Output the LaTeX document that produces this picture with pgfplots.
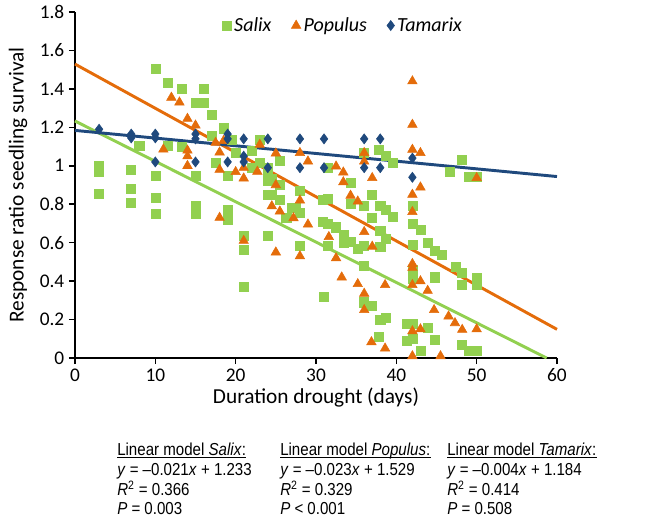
\documentclass[border=0pt]{standalone}
\usepackage{fontspec}
\setmainfont{Carlito}
\newfontfamily\narrowfont[FakeStretch=0.87]{Liberation Sans}
\usepackage{pgfplots}
\pgfplotsset{compat=1.18}
\usepackage{pgfplotstable}
\definecolor{salix}{RGB}{146,208,80}
\definecolor{populus}{RGB}{228,108,10}
\definecolor{tamarix}{RGB}{31,73,125}

\pgfplotstableread{
x y
3 1.00
3 0.968
3 0.855
7 0.98
7 0.88
7 0.81
8 1.105
10 1.505
10 0.95
10 0.835
10 0.75
11.5 1.43
11.5 1.105
13.3 1.40
13.3 1.10
15 1.33
15 0.95
15 0.79
15 0.75
16 1.40
16 1.33
17 1.266
17 1.155
17.5 1.015
18.5 1.195
19 0.95
19 0.77
19 0.72
19.5 1.133
20 1.07
21 0.635
21 0.565
21 0.37
22 0.99
22 1.08
23 1.135
23 1.015
24 0.99
24 0.94
24 0.92
24 0.85
24 0.635
24.5 0.93
24.5 0.85
25.5 1.025
25.5 0.90
25.5 0.825
26.3 0.73
27 0.78
27.5 0.78
28 0.87
28 0.755
28 0.585
30.8 0.825
30.8 0.71
31 0.32
31.5 0.99
31.5 0.83
31.5 0.70
31.5 0.585
32.5 0.68
33.4 0.64
33.4 0.60
34.3 0.91
34.3 0.80
34.3 0.605
35.2 0.57
36 1.07
36 0.79
36 0.585
36 0.48
36 0.29
37 0.85
37 0.73
37 0.27
37.8 1.085
37.8 0.11
38 0.79
38 0.66
38 0.58
38 0.20
38.7 1.05
38.7 0.77
38.7 0.62
38.7 0.21
39.5 1.015
39.5 0.735
41.3 0.18
41.3 0.09
42 0.79
42 0.70
42 0.59
42 0.46
42 0.41
42 0.18
42 0.10
43 0.665
43 0.04
43.9 0.60
43.9 0.155
44.8 0.56
44.8 0.42
44.8 0.095
45.7 0.535
46.6 0.97
47.4 0.475
48.2 1.03
48.2 0.445
48.2 0.38
48.2 0.07
49 0.945
49 0.04
50 0.945
50 0.415
50 0.38
50 0.04
}\salixdata

\pgfplotstableread{
x y
11 1.085
12 1.355
13 1.33
14 1.245
14 1.08
14 1.05
14 1.00
15 1.21
17.5 1.12
18 1.07
18 0.98
18 0.73
18.5 1.13
20 0.968
21 0.99
21 0.935
21 0.61
22.7 0.97
23 1.11
25 1.065
25 0.90
24.5 0.79
25.5 0.763
25 0.55
27.2 0.728
28 1.067
28 0.82
28 0.53
29 1.023
29 0.695
31.6 0.63
32.5 0.997
32.5 0.52
33.4 0.966
33.4 0.915
33.2 0.42
34.3 0.845
35.2 0.815
35.2 0.385
36 1.067
36 1.023
36 0.656
36 0.335
36 0.25
37 0.937
37 0.58
36.9 0.083
38.6 0.38
38.6 0.05
42 1.44
42 1.214
42 1.084
42 0.85
42 0.76
42 0.49
42 0.47
42 0.38
42 0.14
42 0.01
43 1.067
43 0.888
43 0.40
43 0.15
43.9 0.35
44.7 0.25
45.5 0.01
46.5 0.217
47.3 0.182
48.2 0.147
50 0.937
50 0.15
}\populusdata

\pgfplotstableread{
x y
3 1.19
7 1.165
7 1.145
10 1.165
10 1.145
10 1.02
15 1.165
15 1.14
15 1.02
19 1.165
19 1.14
19 1.02
21 1.14
21 1.05
21 1.02
24 1.14
24 0.99
28 1.14
28 0.99
31 1.14
31 0.99
36 1.14
36 0.99
38 1.14
38 0.99
42 1.04
42 0.94
}\tamarixdata

\begin{document}
\begin{tikzpicture}
\useasboundingbox (0,0) rectangle (501.75pt,389.25pt);
\begin{axis}[
  at={(56.25pt,120.75pt)}, anchor=south west,
  scale only axis, width=361.5pt, height=259.5pt,
  xmin=0, xmax=60, ymin=0, ymax=1.8,
  axis x line*=bottom, axis y line*=left,
  axis line style={black, line width=1.4pt, -},
  xtick={0,10,20,30,40,50,60},
  ytick={0,0.2,0.4,0.6,0.8,1,1.2,1.4,1.6,1.8},
  tick align=outside, major tick length=4.5pt,
  tick style={black, line width=1.2pt},
  /pgf/number format/assume math mode=true,
  tick label style={font=\fontsize{14.5}{16}\selectfont},
  xlabel={Duration drought (days)},
  ylabel={Response ratio seedling survival},
  every axis x label/.style={at={(axis description cs:0.5,-0.113)}, anchor=center,
    font=\fontsize{16}{18}\selectfont},
  every axis y label/.style={at={(axis description cs:-0.118,0.5)}, rotate=90, anchor=center,
    font=\fontsize{16}{18}\selectfont},
  clip=false,
  legend style={draw=none, fill=none, at={(0.557,1.0)}, anchor=north,
    legend columns=3, font=\fontsize{15}{17}\selectfont\itshape,
    /tikz/every even column/.append style={column sep=13pt}},
]
\addplot[only marks, mark=square*, mark size=3.4pt, color=salix] table {\salixdata};
\addlegendentry{Salix}
\addplot[only marks, mark=triangle*, mark size=4.1pt, color=populus] table {\populusdata};
\addlegendentry{Populus}
\addplot[only marks, mark=diamond*, mark size=3.8pt, color=tamarix] table {\tamarixdata};
\addlegendentry{Tamarix}
\addplot[salix, line width=2.2pt, forget plot] coordinates {(0,1.233) (58.71,0)};
\addplot[populus, line width=2.2pt, forget plot] coordinates {(0,1.529) (60,0.149)};
\addplot[tamarix, line width=2.2pt, forget plot] coordinates {(0,1.184) (60,0.944)};
\end{axis}
\begin{scope}[every node/.style={anchor=base west, inner sep=0pt,
    font=\narrowfont\fontsize{13}{15}\selectfont}]
\node (h1) at (87.75pt,48pt) {Linear model \textit{Salix}:};
\node at (87.75pt,33pt) {\textit{y} = –0.021\textit{x} + 1.233};
\node at (87.75pt,18pt) {\textit{R}\textsuperscript{2} = 0.366};
\node at (87.75pt,3.5pt) {\textit{P} = 0.003};
\node (h2) at (210pt,48pt) {Linear model \textit{Populus}:};
\node at (210pt,33pt) {\textit{y} = –0.023\textit{x} + 1.529};
\node at (210pt,18pt) {\textit{R}\textsuperscript{2} = 0.329};
\node at (210pt,3.5pt) {\textit{P} < 0.001};
\node (h3) at (335.25pt,48pt) {Linear model \textit{Tamarix}:};
\node at (335.25pt,33pt) {\textit{y} = –0.004\textit{x} + 1.184};
\node at (335.25pt,18pt) {\textit{R}\textsuperscript{2} = 0.414};
\node at (335.25pt,3.5pt) {\textit{P} = 0.508};
\end{scope}
\foreach \h in {h1,h2,h3}
  \draw[line width=0.6pt] ([yshift=-1.5pt]\h.base west) -- ([yshift=-1.5pt]\h.base east);
\end{tikzpicture}
\end{document}
